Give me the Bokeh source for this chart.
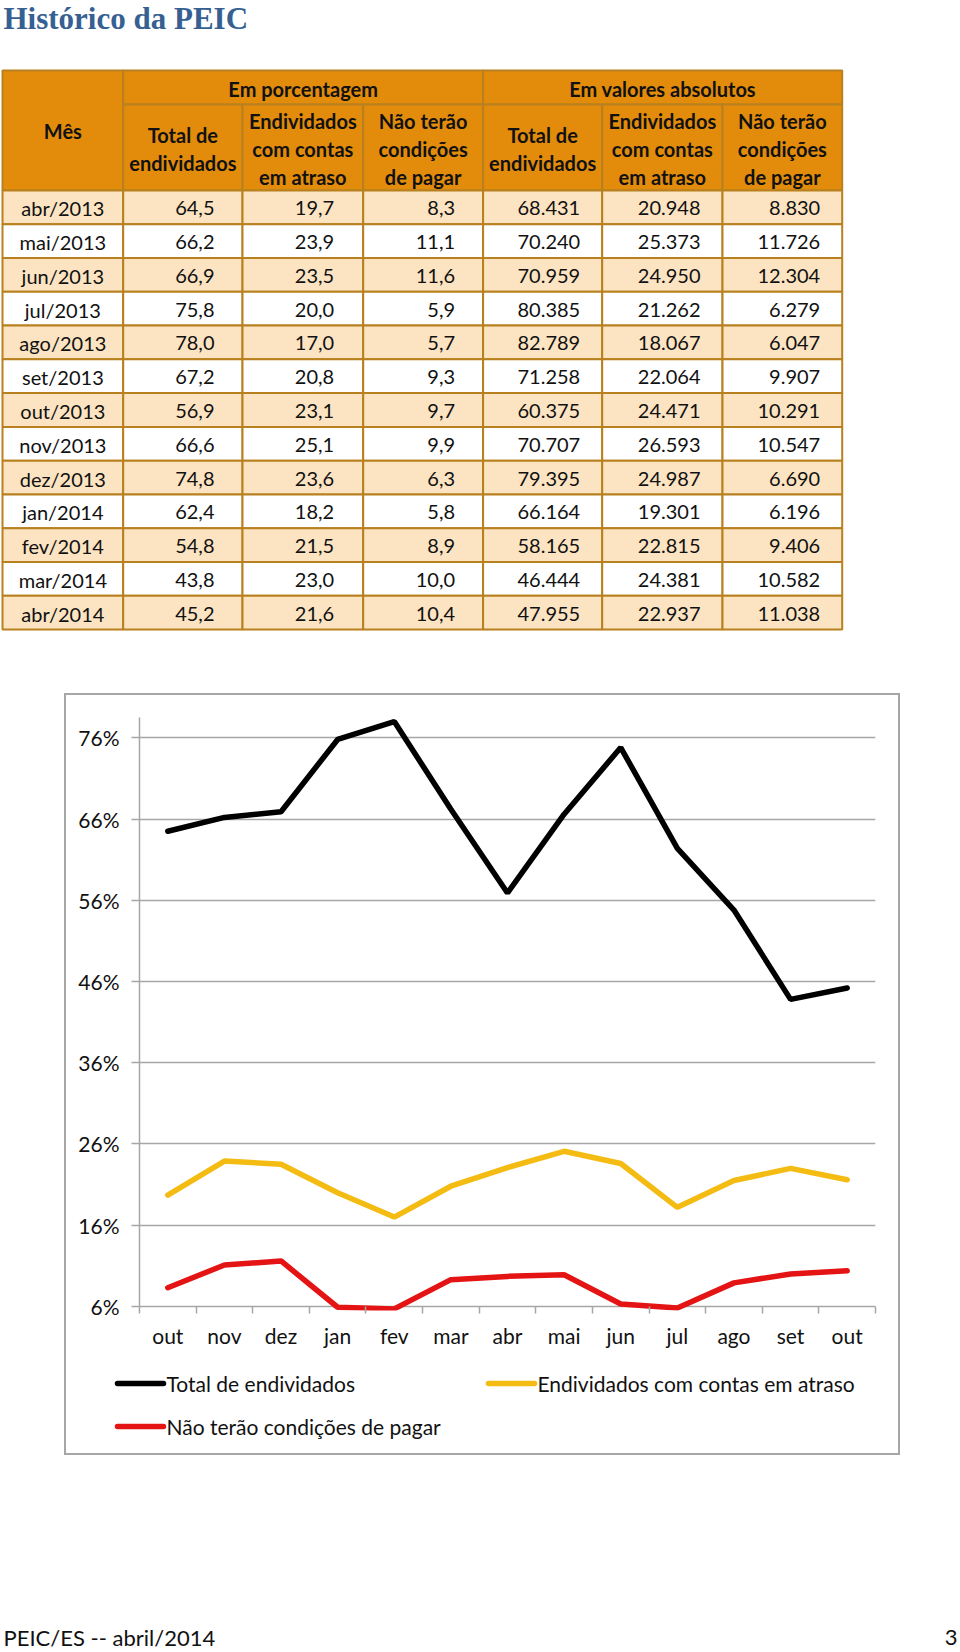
from bokeh.plotting import figure
from bokeh.models import (Range1d, FixedTicker, PrintfTickFormatter, Spacer, ColumnDataSource)
from bokeh.layouts import column, row
from bokeh.core.properties import value
from bokeh.embed import file_html
from bokeh.resources import INLINE

# ---------------- data ----------------
TITLE = "Histórico da PEIC"
FOOTER_LEFT = "PEIC/ES -- abril/2014"
FOOTER_RIGHT = "3"

months = ["abr/2013", "mai/2013", "jun/2013", "jul/2013", "ago/2013", "set/2013", "out/2013",
          "nov/2013", "dez/2013", "jan/2014", "fev/2014", "mar/2014", "abr/2014"]
pct_total = [64.5, 66.2, 66.9, 75.8, 78.0, 67.2, 56.9, 66.6, 74.8, 62.4, 54.8, 43.8, 45.2]
pct_atraso = [19.7, 23.9, 23.5, 20.0, 17.0, 20.8, 23.1, 25.1, 23.6, 18.2, 21.5, 23.0, 21.6]
pct_nao_pagar = [8.3, 11.1, 11.6, 5.9, 5.7, 9.3, 9.7, 9.9, 6.3, 5.8, 8.9, 10.0, 10.4]
abs_total = [68431, 70240, 70959, 80385, 82789, 71258, 60375, 70707, 79395, 66164, 58165, 46444, 47955]
abs_atraso = [20948, 25373, 24950, 21262, 18067, 22064, 24471, 26593, 24987, 19301, 22815, 24381, 22937]
abs_nao_pagar = [8830, 11726, 12304, 6279, 6047, 9907, 10291, 10547, 6690, 6196, 9406, 10582, 11038]

month_header = "Mês"
group_headers = ["Em porcentagem", "Em valores absolutos"]
sub_headers = ["Total de\nendividados", "Endividados\ncom contas\nem atraso", "Não terão\ncondições\nde pagar"]

chart_x_labels = ["out", "nov", "dez", "jan", "fev", "mar", "abr", "mai", "jun", "jul", "ago", "set", "out"]
y_ticks = [6, 16, 26, 36, 46, 56, 66, 76]
series_names = ["Total de endividados", "Endividados com contas em atraso", "Não terão condições de pagar"]
series_colors = ["#000000", "#F4BC12", "#E51414"]

# ---------------- styles ----------------
ORANGE = "#E38C0C"
PEACH = "#FCE4C2"
BORDER = "#B8801E"
FONT = "Lato"
TXT = "#111111"
GRAY = "#A6A6A6"

# ---------------- top: title + table ----------------
TOP_W, TOP_H = 960, 693
pt = figure(width=TOP_W, height=TOP_H, x_range=Range1d(0, TOP_W), y_range=Range1d(TOP_H, 0),
            output_backend="svg", toolbar_location=None, min_border=0,
            x_axis_location=None, y_axis_location=None)
pt.grid.visible = False
pt.outline_line_color = None

pt.text(x=[3], y=[18], text=[TITLE], text_font=value("Liberation Serif"), text_font_style="bold",
        text_font_size="31px", text_color="#366092", text_baseline="middle", text_align="left")

col_edges = [2, 122.7, 242, 362.7, 482.6, 601.7, 722, 841.7]
t_top, g_bot, h_bot, t_bot = 70, 104, 190, 629
pitch = (t_bot - h_bot) / len(months)

# header cells
hl, hr, ht, hb = [], [], [], []
hl.append(col_edges[0]); hr.append(col_edges[1]); ht.append(t_top); hb.append(h_bot)
for g in range(2):
    hl.append(col_edges[1 + 3 * g]); hr.append(col_edges[4 + 3 * g]); ht.append(t_top); hb.append(g_bot)
for c in range(1, 7):
    hl.append(col_edges[c]); hr.append(col_edges[c + 1]); ht.append(g_bot); hb.append(h_bot)
pt.quad(left=hl, right=hr, top=ht, bottom=hb, fill_color=ORANGE, line_color=BORDER, line_width=2)

# body cells
bl, br, bt, bb, bf = [], [], [], [], []
for r in range(len(months)):
    for c in range(7):
        bl.append(col_edges[c]); br.append(col_edges[c + 1])
        bt.append(h_bot + r * pitch); bb.append(h_bot + (r + 1) * pitch)
        bf.append(PEACH if r % 2 == 0 else "#FFFFFF")
pt.quad(left=bl, right=br, top=bt, bottom=bb, fill_color=bf, line_color=BORDER, line_width=2)

# header texts
htx, hty, htt = [], [], []
htx.append((col_edges[0] + col_edges[1]) / 2); hty.append((t_top + h_bot) / 2); htt.append(month_header)
for g in range(2):
    htx.append((col_edges[1 + 3 * g] + col_edges[4 + 3 * g]) / 2); hty.append((t_top + g_bot) / 2 + 1)
    htt.append(group_headers[g])
LH = 28
for c in range(1, 7):
    lines = sub_headers[(c - 1) % 3].split("\n")
    cy = (g_bot + h_bot) / 2 + 1
    for i, ln in enumerate(lines):
        htx.append((col_edges[c] + col_edges[c + 1]) / 2)
        hty.append(cy + (i - (len(lines) - 1) / 2) * LH)
        htt.append(ln)
pt.text(x=htx, y=hty, text=htt, text_font=value(FONT), text_font_style="bold", text_font_size="20px",
        text_color=TXT, text_align="center", text_baseline="middle")

# body texts
def fmt_pct(v):
    return ("%.1f" % v).replace(".", ",")

def fmt_abs(v):
    return "{:,}".format(v).replace(",", ".")

ycent = [h_bot + (r + 0.5) * pitch + 1 for r in range(len(months))]
pt.text(x=[(col_edges[0] + col_edges[1]) / 2] * len(months), y=ycent, text=months,
        text_font=value(FONT), text_font_size="20px", text_color=TXT,
        text_align="center", text_baseline="middle")
cols = [(pct_total, fmt_pct, 28), (pct_atraso, fmt_pct, 29), (pct_nao_pagar, fmt_pct, 28),
        (abs_total, fmt_abs, 22), (abs_atraso, fmt_abs, 22), (abs_nao_pagar, fmt_abs, 22)]
tx, ty, tt = [], [], []
for ci, (vals, f, pad) in enumerate(cols):
    for r, v in enumerate(vals):
        tx.append(col_edges[ci + 2] - pad); ty.append(ycent[r]); tt.append(f(v))
pt.text(x=tx, y=ty, text=tt, text_font=value(FONT), text_font_size="20px", text_color=TXT,
        text_align="right", text_baseline="middle")

# ---------------- chart ----------------
xs = list(range(len(chart_x_labels)))
src = ColumnDataSource(dict(x=xs, total=pct_total, atraso=pct_atraso, nao=pct_nao_pagar))

BOX_L, BOX_R, BOX_T, BOX_B = 64, 900, 693, 1455
PC_H = 667
pc = figure(width=BOX_R - BOX_L, height=PC_H, x_range=Range1d(-0.5, len(xs) - 0.5),
            y_range=Range1d(5.5, 78.5), output_backend="svg", toolbar_location=None,
            min_border_left=75, min_border_right=25, min_border_top=24, min_border_bottom=50)
pc.outline_line_color = None
pc.border_fill_color = "white"
pc.xgrid.visible = False
pc.ygrid.grid_line_color = GRAY
pc.ygrid.grid_line_width = 1.5

ya = pc.yaxis[0]
ya.ticker = FixedTicker(ticks=y_ticks, minor_ticks=[])
ya.formatter = PrintfTickFormatter(format="%d%%")
ya.bounds = (6, 78.5)
ya.axis_line_color = GRAY
ya.axis_line_width = 1.5
ya.major_tick_line_color = GRAY
ya.major_tick_line_width = 1.5
ya.major_tick_out = 8
ya.major_tick_in = 0
ya.minor_tick_line_color = None
ya.major_label_standoff = 12
ya.major_label_text_font = FONT
ya.major_label_text_font_size = "21px"
ya.major_label_text_color = TXT

xa = pc.xaxis[0]
xa.ticker = FixedTicker(ticks=xs, minor_ticks=[i - 0.5 for i in range(len(xs) + 1)])
xa.major_label_overrides = {i: lab for i, lab in enumerate(chart_x_labels)}
xa.axis_line_color = None
xa.major_tick_line_color = None
xa.major_tick_out = 0
xa.major_tick_in = 0
xa.minor_tick_line_color = GRAY
xa.minor_tick_line_width = 1.5
xa.minor_tick_out = 3
xa.minor_tick_in = 4
xa.major_label_standoff = 9
xa.major_label_text_font = FONT
xa.major_label_text_font_size = "21px"
xa.major_label_text_color = TXT

pc.line("x", "total", source=src, line_color=series_colors[0], line_width=5.5, line_cap="round")
pc.line("x", "atraso", source=src, line_color=series_colors[1], line_width=5.5, line_cap="round")
pc.line("x", "nao", source=src, line_color=series_colors[2], line_width=5.5, line_cap="round")

# legend strip (bottom part of the chart box)
LEG_T = BOX_T + PC_H
pl = figure(width=BOX_R - BOX_L, height=BOX_B - LEG_T, x_range=Range1d(BOX_L, BOX_R),
            y_range=Range1d(BOX_B, LEG_T), output_backend="svg", toolbar_location=None,
            min_border=0, x_axis_location=None, y_axis_location=None)
pl.grid.visible = False
pl.outline_line_color = None
for fig in (pc, pl):
    try:
        fig.frame_align = False
    except Exception:
        pass
leg_x = [117, 488, 117]
leg_y = [1383, 1383, 1426]
leg_len = 46
pl.segment(x0=leg_x, y0=leg_y, x1=[v + leg_len for v in leg_x], y1=leg_y,
           line_color=series_colors, line_width=5.5, line_cap="round")
pl.text(x=[v + leg_len + 3 for v in leg_x], y=leg_y, text=series_names, text_font=value(FONT),
        text_font_size="21px", text_color=TXT, text_align="left", text_baseline="middle")

chart_box = column(pc, pl)
chart_box.stylesheets = [":host { position: relative; }",
                         ":host::after { content: ''; position: absolute; left: 0; top: 0; right: 0;"
                         " bottom: 0; border: 2px solid #A6A6A6; pointer-events: none; z-index: 100; }"]

# ---------------- footer ----------------
FW, FH = 960, 196
pf = figure(width=FW, height=FH, x_range=Range1d(0, FW), y_range=Range1d(FH, 0),
            output_backend="svg", toolbar_location=None, min_border=0,
            x_axis_location=None, y_axis_location=None)
pf.grid.visible = False
pf.outline_line_color = None
pf.text(x=[3], y=[182], text=[FOOTER_LEFT], text_font=value(FONT), text_font_size="22px",
        text_color=TXT, text_align="left", text_baseline="middle")
pf.text(x=[957], y=[182], text=[FOOTER_RIGHT], text_font=value(FONT), text_font_size="22px",
        text_color=TXT, text_align="right", text_baseline="middle")

layout = column(pt, row(Spacer(width=BOX_L, height=BOX_B - BOX_T), chart_box), pf)
open("out.html", "w").write(file_html(layout, INLINE))
